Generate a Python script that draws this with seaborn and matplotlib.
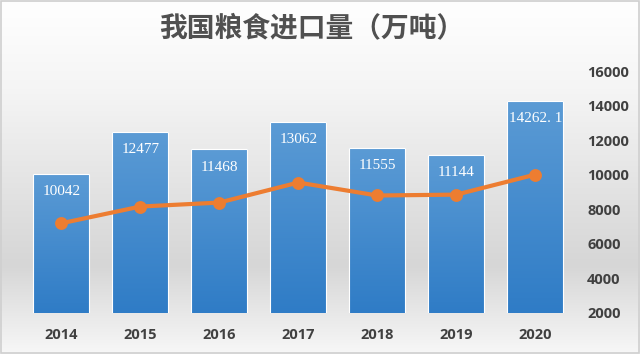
import numpy as np
import pandas as pd
import matplotlib.pyplot as plt
import seaborn as sns
from matplotlib.colors import LinearSegmentedColormap
from matplotlib.patches import Rectangle

# data
years = ['2014', '2015', '2016', '2017', '2018', '2019', '2020']
imports = [10042, 12477, 11468, 13062, 11555, 11144, 14262.1]
bar_labels = ['10042', '12477', '11468', '13062', '11555', '11144', '14262. 1']
trend = [7190, 8160, 8390, 9550, 8800, 8850, 10010]
yticks = [2000, 4000, 6000, 8000, 10000, 12000, 14000, 16000]

sns.set_theme(style='white')
plt.rcParams['font.family'] = ['Noto Sans CJK SC', 'DejaVu Sans']

df = pd.DataFrame({'year': years, 'imports': imports, 'trend': trend})

fig = plt.figure(figsize=(6.4, 3.54), dpi=100)

# background: white at top, grey band in the middle, pale at the bottom
bg = fig.add_axes([0, 0, 1, 1], zorder=0)
pos = [0.0, 0.25, 0.42, 0.75, 1.0]
cols = ['#f7f7f7', '#d6d6d6', '#e0e0e0', '#f5f5f5', '#ffffff']
bg_cmap = LinearSegmentedColormap.from_list('bg', list(zip(pos, cols)))
bg.imshow(np.linspace(0, 1, 256).reshape(-1, 1)[::-1], aspect='auto', cmap=bg_cmap,
          extent=[0, 1, 0, 1], origin='upper')
bg.axis('off')
fig.patches.append(Rectangle((0.001, 0.002), 0.997, 0.995, transform=fig.transFigure,
                             fill=False, edgecolor='#cfcfcf', linewidth=1.2))

ax = fig.add_axes([0.034, 0.116, 0.864, 0.683], zorder=1)
ax.patch.set_alpha(0)

sns.barplot(data=df, x='year', y='imports', ax=ax, width=0.71, color='#4a8fd0',
            saturation=1, edgecolor='white', linewidth=0.8)

# vertical blue gradient inside each bar
bar_cmap = LinearSegmentedColormap.from_list('bar', ['#2f7cc6', '#5b9bd5'])
grad = np.linspace(0, 1, 128).reshape(-1, 1)
for p in ax.patches:
    x0, w, h = p.get_x(), p.get_width(), p.get_height()
    im = ax.imshow(grad, aspect='auto', cmap=bar_cmap, origin='lower',
                   extent=[x0, x0 + w, 2000, h], zorder=1.5)
    im.set_clip_path(p)
    p.set_zorder(1.6)
    p.set_facecolor('none')

sns.pointplot(data=df, x='year', y='trend', ax=ax, color='#ed7d31',
              markers='o', markersize=7, linewidth=3)
for c in ax.collections + ax.lines:
    c.set_zorder(3)

for i, (v, lab) in enumerate(zip(imports, bar_labels)):
    ax.text(i, v - 1030, lab, ha='center', va='center', color='white',
            fontsize=11, family=['Liberation Serif', 'DejaVu Serif'], zorder=4)

ax.set_xlim(-0.5, 6.5)
ax.set_ylim(2000, 16000)
ax.yaxis.tick_right()
ax.set_yticks(yticks)
ax.set_yticklabels([str(t) for t in yticks])
ax.set_xlabel('')
ax.set_ylabel('')
ax.tick_params(axis='x', length=0, pad=11)
ax.tick_params(axis='y', length=0, pad=9)
for lab in ax.get_xticklabels() + ax.get_yticklabels():
    lab.set_fontfamily(['Open Sans', 'DejaVu Sans'])
    lab.set_fontweight('bold')
    lab.set_fontsize(10.5)
    lab.set_color('#404040')
sns.despine(ax=ax, left=True, bottom=True, right=True, top=True)

fig.text(0.4875, 0.921, '我国粮食进口量（万吨）', ha='center', va='center',
         fontsize=20, fontweight='bold', color='#505050')

fig.savefig('out.png', dpi=100)
